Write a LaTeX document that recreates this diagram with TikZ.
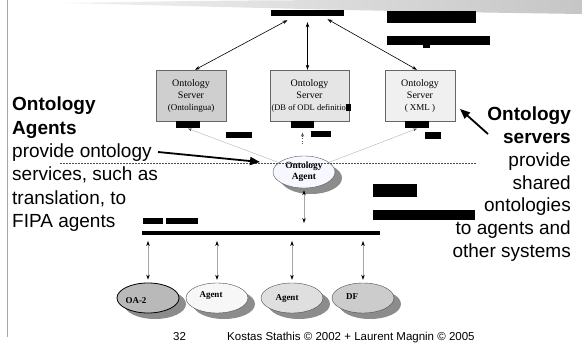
\documentclass[tikz,border=0pt]{standalone}
\usepackage{fontspec}
\setmainfont{Liberation Serif}
\setsansfont{Liberation Sans}
\usetikzlibrary{arrows.meta,positioning,shapes.geometric}

\begin{document}
\begin{tikzpicture}[x=1pt,y=-1pt,
srv/.style={draw=gray!80!black,minimum width=70pt,minimum height=51pt,inner sep=0pt,align=center,font=\fontsize{10}{12}\selectfont},
blk/.style={fill=black,inner sep=0pt},
oval/.style={ellipse,draw=black!70,minimum width=62pt,minimum height=30pt,inner sep=0pt,preaction={draw=none,fill=gray!90,transform canvas={shift={(7pt,-6pt)}}}},
agtxt/.style={font=\bfseries\fontsize{9}{10}\selectfont},
dbl/.style={{Stealth[length=5pt,width=3.5pt,color=black]}-{Stealth[length=5pt,width=3.5pt,color=black]},line width=0.6pt},
dblg/.style={dbl,draw=gray!70},
thinarr/.style={-{Stealth[length=4pt,width=3pt,color=black!70]},gray!60,line width=0.4pt},
big/.style={-{Triangle[length=10pt,width=8pt]},line width=1.8pt},
txt/.style={font=\sffamily\fontsize{19}{23.3}\selectfont,inner sep=0pt}]
\useasboundingbox (0,0) rectangle (582,343);
% frame and banner
\shade[left color=gray!10,right color=gray!45] (62,3) .. controls (250,0) .. (582,0) -- (582,14) .. controls (380,11) .. (62,3) -- cycle;
\draw[gray!70,line width=1pt] (7,0) -- (7,337);
% servers
\node[blk,minimum width=73pt,minimum height=6pt] (toplbl) at (307.5,13) {};
\node[srv,fill=gray!38] (srvA) at (191,95.5) {Ontology\\Server\\{\fontsize{9}{10}\selectfont(Ontolingua)}};
\node[srv,fill=gray!20,minimum width=79pt] (srvB) at (309.5,95.5) {Ontology\\Server\\\makebox[76pt][l]{\fontsize{8.5}{10}\selectfont(DB of ODL definitio\rule[-1pt]{5pt}{7pt}}};
\node[srv,fill=gray!12] (srvC) at (420,95.5) {Ontology\\Server\\{\fontsize{9}{10}\selectfont( XML )}};
\node[blk,minimum width=24pt,minimum height=7pt,below=0pt of srvA,xshift=-3pt] (barA) {};
\node[blk,minimum width=23pt,minimum height=7pt,below=0pt of srvB,xshift=-7pt] (barB) {};
\node[blk,minimum width=24pt,minimum height=7pt,below=0pt of srvC,xshift=-3pt] (barC) {};
\draw[dbl] ([xshift=-20pt,yshift=-4pt]toplbl.south) -- ([xshift=4pt]srvA.north);
\draw[dbl] ([yshift=-6pt]toplbl.south) -- (toplbl.south |- srvB.north);
\draw[dbl] ([xshift=20pt,yshift=-3pt]toplbl.south) -- ([xshift=-3pt]srvC.north);
% ontology agent and bus
\node[oval,fill=blue!3,minimum height=32pt,draw=gray!70!black,align=center,font=\bfseries\fontsize{9.5}{11.5}\selectfont] (oagent) at (304,172) {Ontology\\Agent};
\draw[thinarr] (oagent) -- (barA.south);
\draw[thinarr] (oagent) -- (barC.south);
\draw[thinarr,dotted,draw=black!70] ([yshift=-15pt]barB.south) -- ([yshift=-4pt]barB.south);
\draw[dashed,dash pattern=on 2pt off 1pt,gray!60!black,line width=0.6pt] (60,163) -- (476,163);
\node[blk,minimum width=238pt,minimum height=3.5pt] (bus) at (261,233) {};
\draw[dblg,shorten <=2pt,shorten >=8pt] (oagent.south) -- (oagent.south |- bus.north);
\node[oval,fill=gray!55,draw=black,line width=0.8pt,label={[agtxt,xshift=-12pt,yshift=-3pt]center:OA-2}] (oa2) at (148,298) {};
\node[oval,fill=gray!6,label={[agtxt,xshift=-6pt,yshift=2pt]center:Agent}] (agB) at (217,298) {};
\node[oval,fill=gray!25,label={[agtxt,xshift=-5pt,yshift=-1pt]center:Agent}] (agC) at (292,298) {};
\node[oval,fill=gray!40,label={[agtxt,xshift=-11pt,yshift=1pt]center:DF}] (df) at (363,298) {};
\foreach \a in {oa2,agB,agC,df} \draw[dblg,shorten <=6pt,shorten >=3pt] (\a.north |- bus.south) -- (\a.north);
% garbled labels
\fill (387,11) rectangle (476,23);
\fill (387,36) rectangle (490,45); \fill (423,45) rectangle (430,48);
\fill (226,132) rectangle (252,138); \fill (311,131) rectangle (331,137); \fill (425,132) rectangle (441,139);
\fill (143,218) rectangle (163,224); \fill (166,218) rectangle (198,224);
\fill (373,184) rectangle (417,197); \fill (373,210) rectangle (475,220);
% side texts
\node[txt,anchor=north west,align=left] (leftTxt) at (12,97) {\textbf{Ontology}\\\textbf{Agents}\\provide ontology\\services, such as\\translation, to\\FIPA agents};
\node[txt,anchor=north east,align=right,font=\sffamily\fontsize{19}{22.7}\selectfont] (rightTxt) at (571,107) {\textbf{Ontology}\\\textbf{servers}\\provide\\shared\\ontologies\\to agents and\\other systems};
\coordinate (oaTail) at (158,152); \coordinate (oaTip) at (260,162);
\draw[big] (oaTail) -- (oaTip);
\coordinate (srvTail) at (488,134); \coordinate (srvTip) at (460,109);
\draw[big] (srvTail) -- (srvTip);
% footer
\node[font=\sffamily\fontsize{11.5}{13}\selectfont,anchor=base west,inner sep=0pt] (pgno) at (173,340) {32};
\node[font=\sffamily\fontsize{11.5}{13}\selectfont,anchor=base west,inner sep=0pt] (credit) at (227,340) {Kostas Stathis © 2002 + Laurent Magnin © 2005};
\end{tikzpicture}
\end{document}
